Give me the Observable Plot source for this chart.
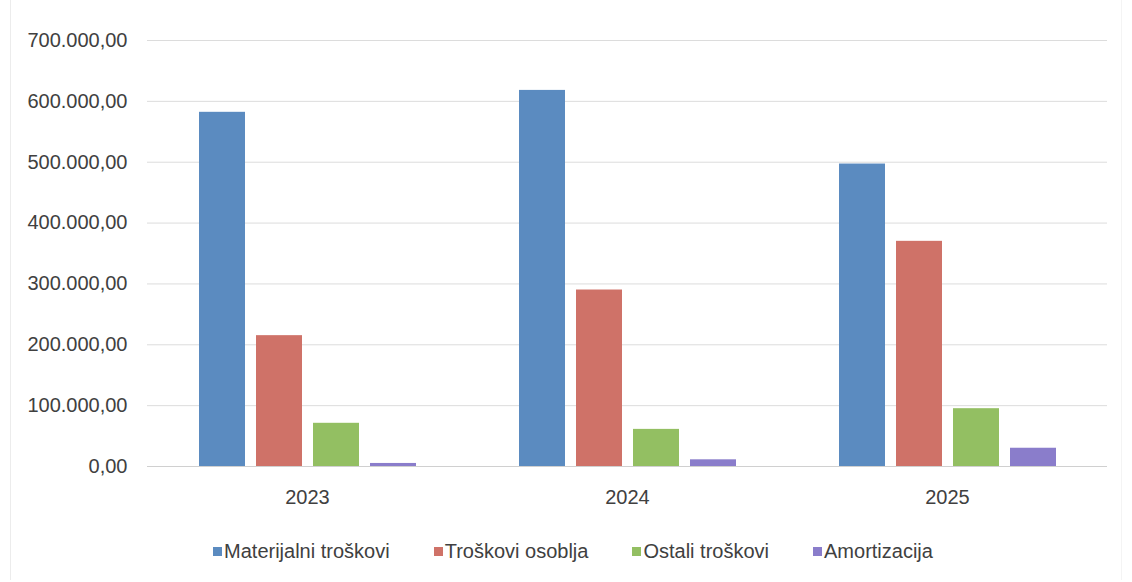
<!DOCTYPE html>
<html>
<head>
<meta charset="utf-8">
<script src="https://cdn.jsdelivr.net/npm/d3@7"></script>
<script src="https://cdn.jsdelivr.net/npm/@observablehq/plot@0.6"></script>
<style>
  html, body { margin: 0; padding: 0; background: #fff; }
  body { width: 1132px; height: 582px; overflow: hidden; font-family: "Liberation Sans", Arial, sans-serif; position: relative; }
  #frame { position: absolute; left: 10px; top: 0; width: 1112px; height: 580px; border-left: 1px solid #ececec; border-right: 1px solid #f4f4f4; box-sizing: border-box; pointer-events: none; }
  #legend { display: flex; justify-content: center; align-items: center; height: 62px; font-size: 20px; color: #404040; padding-left: 14px; }
  .item { display: flex; align-items: center; margin-right: 44px; }
  .item:last-child { margin-right: 0; }
  .sw { width: 9px; height: 9px; margin-right: 2px; }
</style>
</head>
<body>
<div id="frame"></div>
<div id="chart"></div>
<div id="legend"></div>
<script>
const years = ["2023", "2024", "2025"];
const seriesNames = ["Materijalni troškovi", "Troškovi osoblja", "Ostali troškovi", "Amortizacija"];
const materijalni = [582000, 618000, 497000];
const osoblja = [215000, 290000, 370000];
const ostali = [71000, 61000, 95000];
const amortizacija = [5000, 11000, 30000];
const yTicks = [0, 100000, 200000, 300000, 400000, 500000, 600000, 700000];
const colors = ["#5b8bc0", "#cf7268", "#93bf62", "#8a7dcb"];

const seriesValues = [materijalni, osoblja, ostali, amortizacija];
const data = [];
years.forEach((y, i) => {
  seriesNames.forEach((s, j) => data.push({year: y, series: s, value: seriesValues[j][i]}));
});

const locale = d3.formatLocale({decimal: ",", thousands: ".", grouping: [3], currency: ["", ""]});
const fmt = locale.format(",.2f");

const chart = Plot.plot({
  width: 1132,
  height: 520,
  marginLeft: 147,
  marginRight: 25,
  marginTop: 40,
  marginBottom: 54,
  style: {fontFamily: "Liberation Sans, Arial, sans-serif", fontSize: "20px", color: "#404040", background: "#fff"},
  fx: {domain: years, padding: 0, label: null},
  x: {domain: seriesNames, paddingInner: 0.2, paddingOuter: 0.883, axis: null},
  y: {domain: [0, 700000], ticks: yTicks, label: null},
  color: {domain: seriesNames, range: colors},
  marks: [
    Plot.gridY(yTicks.filter(d => d > 0), {stroke: "#dcdcdc", strokeOpacity: 1}),
    Plot.ruleY([0], {stroke: "#d0d0d0"}),
    Plot.axisY(yTicks, {tickSize: 0, tickPadding: 20, tickFormat: fmt, fontSize: 20, fill: "#404040", label: null}),
    Plot.axisFx({anchor: "bottom", tickSize: 0, tickPadding: 23, fontSize: 20, fill: "#404040", label: null}),
    Plot.barY(data, {fx: "year", x: "series", y: "value", fill: "series"})
  ]
});
document.getElementById("chart").appendChild(chart);

const legend = document.getElementById("legend");
seriesNames.forEach((s, i) => {
  const item = document.createElement("div");
  item.className = "item";
  const sw = document.createElement("span");
  sw.className = "sw";
  sw.style.background = colors[i];
  const t = document.createElement("span");
  t.textContent = s;
  item.appendChild(sw);
  item.appendChild(t);
  legend.appendChild(item);
});
</script>
</body>
</html>
